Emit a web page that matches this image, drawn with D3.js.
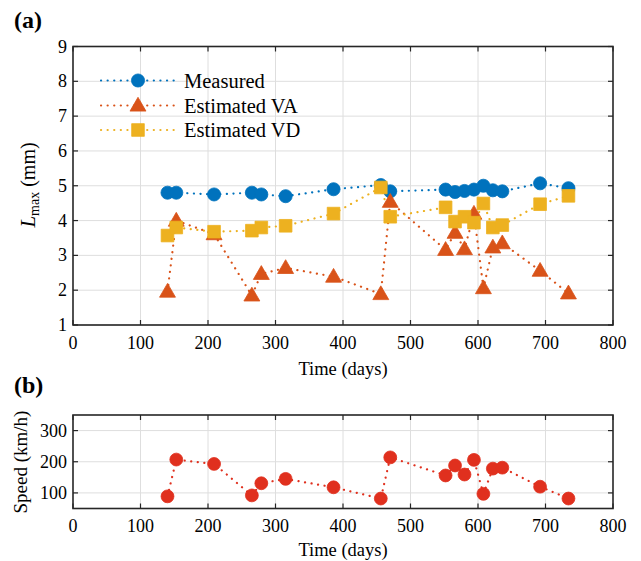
<!DOCTYPE html>
<html>
<head>
<meta charset="utf-8">
<script src="https://cdn.jsdelivr.net/npm/d3@7"></script>
<style>
  body { margin: 0; background: #fff; }
  svg { font-family: "Liberation Serif", "Times New Roman", serif; }
</style>
</head>
<body>
<svg id="chart" width="641" height="561"></svg>
<script>
// data
const days = [140, 153, 209, 265, 279, 315, 386, 456, 470, 552, 566, 580, 594, 608, 622, 636, 692, 734];
const measured = [4.80, 4.80, 4.75, 4.80, 4.75, 4.70, 4.90, 5.02, 4.84, 4.89, 4.82, 4.85, 4.89, 5.00, 4.87, 4.84, 5.07, 4.93];
const estVA = [1.96, 4.00, 3.61, 1.85, 2.47, 2.64, 2.39, 1.89, 4.54, 3.16, 3.65, 3.18, 4.20, 2.06, 3.23, 3.35, 2.56, 1.91];
const estVD = [3.57, 3.80, 3.68, 3.71, 3.80, 3.85, 4.20, 4.95, 4.11, 4.38, 3.97, 4.11, 3.94, 4.49, 3.80, 3.87, 4.47, 4.71];
const speed = [89, 207, 193, 92, 131, 145, 118, 82, 214, 156, 188, 159, 206, 97, 178, 181, 120, 82];

const xTicks = [0, 100, 200, 300, 400, 500, 600, 700, 800];
const yTicksA = [1, 2, 3, 4, 5, 6, 7, 8, 9];
const yTicksB = [100, 200, 300];

const colors = { measured: "#0072BD", va: "#D95319", vd: "#EDB120", speed: "#E0301E" };

const svg = d3.select("#chart");

const left = 73, right = 613;
const x = d3.scaleLinear().domain([0, 800]).range([left, right]);

const yA = d3.scaleLinear().domain([1, 9]).range([325, 46.5]);
const yB = d3.scaleLinear().domain([50, 350]).range([508.5, 415]);

function frame(y, yTicks, top, bottom) {
    const g = svg.append("g");
    // grid
    g.selectAll(".gx").data(xTicks.slice(1, -1)).join("line")
        .attr("x1", d => x(d)).attr("x2", d => x(d))
        .attr("y1", top).attr("y2", bottom)
        .attr("stroke", "#dedede").attr("stroke-width", 1);
    g.selectAll(".gy").data(yTicks).join("line")
        .attr("x1", left).attr("x2", right)
        .attr("y1", d => y(d)).attr("y2", d => y(d))
        .attr("stroke", "#dedede").attr("stroke-width", 1);
    return g;
}

function axes(y, yTicks, top, bottom, labelY) {
    const g = svg.append("g");
    const tl = 5;
    // inner ticks, all four sides
    g.selectAll(".tb").data(xTicks).join("line")
        .attr("x1", d => x(d)).attr("x2", d => x(d))
        .attr("y1", bottom).attr("y2", bottom - tl)
        .attr("stroke", "#262626").attr("stroke-width", 1.2);
    g.selectAll(".tt").data(xTicks).join("line")
        .attr("x1", d => x(d)).attr("x2", d => x(d))
        .attr("y1", top).attr("y2", top + tl)
        .attr("stroke", "#262626").attr("stroke-width", 1.2);
    g.selectAll(".tl").data(yTicks).join("line")
        .attr("x1", left).attr("x2", left + tl)
        .attr("y1", d => y(d)).attr("y2", d => y(d))
        .attr("stroke", "#262626").attr("stroke-width", 1.2);
    g.selectAll(".tr").data(yTicks).join("line")
        .attr("x1", right).attr("x2", right - tl)
        .attr("y1", d => y(d)).attr("y2", d => y(d))
        .attr("stroke", "#262626").attr("stroke-width", 1.2);
    g.append("rect")
        .attr("x", left).attr("y", top)
        .attr("width", right - left).attr("height", bottom - top)
        .attr("fill", "none").attr("stroke", "#262626").attr("stroke-width", 1.6);
    // tick labels
    g.selectAll(".lx").data(xTicks).join("text")
        .attr("x", d => x(d)).attr("y", labelY)
        .attr("text-anchor", "middle").attr("font-size", 18)
        .text(d => d);
    g.selectAll(".ly").data(yTicks).join("text")
        .attr("x", left - 6).attr("y", d => y(d) + 6)
        .attr("text-anchor", "end").attr("font-size", 18)
        .text(d => d);
    return g;
}

frame(yA, yTicksA, 46.5, 325);
frame(yB, yTicksB, 415, 508.5);

const dotted = (g, data, y, color) => {
    const line = d3.line().x(d => x(d[0])).y(d => y(d[1]));
    g.append("path")
        .datum(data)
        .attr("fill", "none")
        .attr("stroke", color)
        .attr("stroke-width", 2.2)
        .attr("stroke-linecap", "round")
        .attr("stroke-dasharray", "0.1,6.5")
        .attr("d", line);
};

const circleSym = d3.symbol().type(d3.symbolCircle).size(135);
const triSym = d3.symbol().type(d3.symbolTriangle).size(110);
const sqSym = d3.symbol().type(d3.symbolSquare).size(160);

function markers(g, data, y, sym, color, dy) {
    g.selectAll(null).data(data).join("path")
        .attr("transform", d => `translate(${x(d[0])},${y(d[1]) + (dy || 0)})`)
        .attr("d", sym)
        .attr("fill", color)
        .attr("stroke", color)
        .attr("stroke-width", 0.8);
}

// ===== panel (a) =====
const gA = svg.append("g");
const mData = days.map((d, i) => [d, measured[i]]);
const vaData = days.map((d, i) => [d, estVA[i]]);
const vdData = days.map((d, i) => [d, estVD[i]]);

dotted(gA, mData, yA, colors.measured);
dotted(gA, vaData, yA, colors.va);
dotted(gA, vdData, yA, colors.vd);
markers(gA, mData, yA, circleSym, colors.measured);
markers(gA, vaData, yA, triSym, colors.va, 1);
markers(gA, vdData, yA, sqSym, colors.vd);

// legend
const legend = svg.append("g");
const legItems = [
    { name: "Measured", color: colors.measured, sym: circleSym, y: 80.5 },
    { name: "Estimated VA", color: colors.va, sym: triSym, y: 105.5 },
    { name: "Estimated VD", color: colors.vd, sym: sqSym, y: 130 }
];
legItems.forEach(it => {
    legend.append("line")
        .attr("x1", 101).attr("x2", 175)
        .attr("y1", it.y).attr("y2", it.y)
        .attr("stroke", it.color).attr("stroke-width", 2.2)
        .attr("stroke-linecap", "round").attr("stroke-dasharray", "0.1,6.5");
    legend.append("path")
        .attr("transform", `translate(138,${it.y + (it.sym === triSym ? 1 : 0)})`)
        .attr("d", it.sym)
        .attr("fill", it.color).attr("stroke", it.color).attr("stroke-width", 0.8);
    legend.append("text")
        .attr("x", 184).attr("y", it.y + 7)
        .attr("font-size", 20.5)
        .text(it.name);
});

// ===== panel (b) =====
const gB = svg.append("g");
const sData = days.map((d, i) => [d, speed[i]]);
dotted(gB, sData, yB, colors.speed);
markers(gB, sData, yB, d3.symbol().type(d3.symbolCircle).size(130), colors.speed);

axes(yA, yTicksA, 46.5, 325, 349);
axes(yB, yTicksB, 415, 508.5, 532);

// axis titles
svg.append("text").attr("x", x(400)).attr("y", 375)
    .attr("text-anchor", "middle").attr("font-size", 18.5).text("Time (days)");
svg.append("text").attr("x", x(400)).attr("y", 556)
    .attr("text-anchor", "middle").attr("font-size", 18.5).text("Time (days)");

const yl = svg.append("text")
    .attr("transform", "translate(35,185) rotate(-90)")
    .attr("text-anchor", "middle").attr("font-size", 20);
yl.append("tspan").attr("font-style", "italic").attr("font-size", 21).text("L");
yl.append("tspan").attr("font-size", 14).attr("dy", 4).text("max");
yl.append("tspan").attr("dy", -4).text(" (mm)");

svg.append("text")
    .attr("transform", "translate(27,462) rotate(-90)")
    .attr("text-anchor", "middle").attr("font-size", 19).text("Speed (km/h)");

// panel letters
svg.append("text").attr("x", 14).attr("y", 28)
    .attr("font-size", 24).attr("font-weight", "bold").text("(a)");
svg.append("text").attr("x", 14).attr("y", 393)
    .attr("font-size", 24).attr("font-weight", "bold").text("(b)");
</script>
</body>
</html>
